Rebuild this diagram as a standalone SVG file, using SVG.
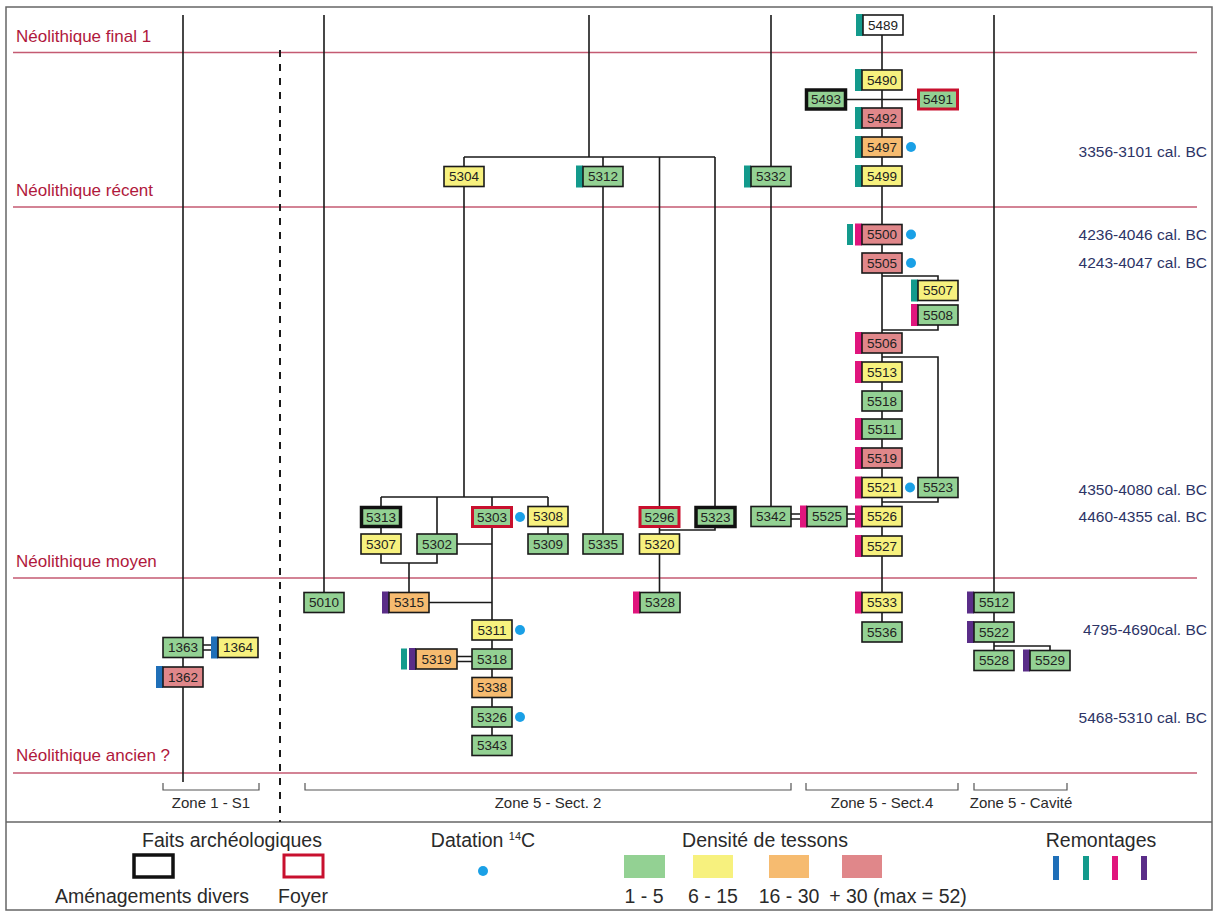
<svg xmlns="http://www.w3.org/2000/svg" width="1215" height="912" viewBox="0 0 1215 912">
<style>
.bx{stroke:#1a1a1a;stroke-width:1.6}
.am{stroke:#111;stroke-width:3.5}
.fy{stroke:#c8102e;stroke-width:3}
.g{fill:#93d193}.y{fill:#f7f17e}.o{fill:#f6bb70}.p{fill:#e0878a}.w{fill:#fff}
.mb{fill:#1f6fb8}.mt{fill:#139a8c}.mm{fill:#e0157d}.mp{fill:#5a2d88}
.dot{fill:#1aa0e6}
.t{font-family:"Liberation Sans",Arial,sans-serif;font-size:13.5px;text-anchor:middle;fill:#222}
.ln{stroke:#1a1a1a;stroke-width:1.6;fill:none}
.per{stroke:#c45a72;stroke-width:1.3}
.pl{font-family:"Liberation Sans",Arial,sans-serif;font-size:17px;fill:#b0183c}
.dt{font-family:"Liberation Sans",Arial,sans-serif;font-size:15.5px;fill:#2d3466;text-anchor:end}
.zl{font-family:"Liberation Sans",Arial,sans-serif;font-size:15px;fill:#2a2a2a;text-anchor:middle}
.lg{font-family:"Liberation Sans",Arial,sans-serif;font-size:19.5px;fill:#2a2a2a;text-anchor:middle}
.br{stroke:#555;stroke-width:1.2;fill:none}
</style>
<rect x="0" y="0" width="1215" height="912" fill="#fff"/>
<rect x="6" y="7" width="1206" height="903" fill="none" stroke="#666" stroke-width="1.5"/>
<line x1="6" y1="822" x2="1212" y2="822" stroke="#666" stroke-width="1.5"/>

<g id="periods">
<line class="per" x1="13" y1="52.5" x2="1197" y2="52.5"/>
<line class="per" x1="13" y1="207" x2="1197" y2="207"/>
<line class="per" x1="13" y1="578" x2="1197" y2="578"/>
<line class="per" x1="13" y1="773" x2="1197" y2="773"/>
<text class="pl" x="16" y="42">Néolithique final 1</text>
<text class="pl" x="16" y="196">Néolithique récent</text>
<text class="pl" x="16" y="567">Néolithique moyen</text>
<text class="pl" x="16" y="761">Néolithique ancien ?</text>
</g>

<g id="dates">
<text class="dt" x="1207" y="157">3356-3101 cal. BC</text>
<text class="dt" x="1207" y="240">4236-4046 cal. BC</text>
<text class="dt" x="1207" y="268">4243-4047 cal. BC</text>
<text class="dt" x="1207" y="495">4350-4080 cal. BC</text>
<text class="dt" x="1207" y="522">4460-4355 cal. BC</text>
<text class="dt" x="1207" y="635">4795-4690cal. BC</text>
<text class="dt" x="1207" y="723">5468-5310 cal. BC</text>
</g>

<g id="connectors">
<line x1="280" y1="50" x2="280" y2="822" stroke="#1a1a1a" stroke-width="2" stroke-dasharray="7,7"/>
<path class="ln" d="M183 15V782M324 15V592M589 15V157M464 157H715M464 157V497M603 157V534M659.5 157V534M715 157V507M771 15V506M882 25V632M846 99.5H918M882 276H938V281M938 325V330H882M882 357H938V477M882 502H938V497M994 15V650M994 646H1050V650M381 497H548M381 497V534M437 497V534M548 497V534M492 497V735M381 554V563H437V554M409 563V592M457 544H492M429 602.5H492M715 527V530H659.5M659.5 554V592"/>
<path class="ln" d="M791 514H801M791 519H801M847 514H856M847 519H856M203 645H212M203 650H212M457 656.5H472M457 661.5H472"/>
</g>

<g id="n5489"><rect class="mt" x="856" y="14" width="7" height="22"/><rect class="bx w" x="863" y="15" width="40" height="20"/><text class="t" x="883" y="29.5">5489</text></g>
<g id="n5490"><rect class="mt" x="855" y="69" width="7" height="22"/><rect class="bx y" x="862" y="70" width="40" height="20"/><text class="t" x="882" y="84.5">5490</text></g>
<g id="n5493"><rect class="am g" x="806.5" y="90" width="39" height="19"/><text class="t" x="826" y="104">5493</text></g>
<g id="n5491"><rect class="fy g" x="918.5" y="90" width="39" height="19"/><text class="t" x="938" y="104">5491</text></g>
<g id="n5492"><rect class="mt" x="855" y="107" width="7" height="22"/><rect class="bx p" x="862" y="108" width="40" height="20"/><text class="t" x="882" y="122.5">5492</text></g>
<g id="n5497"><rect class="mt" x="855" y="136" width="7" height="22"/><rect class="bx o" x="862" y="137" width="40" height="20"/><text class="t" x="882" y="151.5">5497</text><circle class="dot" cx="911" cy="147" r="5"/></g>
<g id="n5499"><rect class="mt" x="855" y="165" width="7" height="22"/><rect class="bx y" x="862" y="166" width="40" height="20"/><text class="t" x="882" y="180.5">5499</text></g>
<g id="n5500"><rect class="mt" x="847" y="224" width="6" height="21"/><rect class="mm" x="855" y="223.5" width="7" height="22"/><rect class="bx p" x="862" y="224.5" width="40" height="20"/><text class="t" x="882" y="239">5500</text><circle class="dot" cx="911" cy="234.5" r="5"/></g>
<g id="n5505"><rect class="bx p" x="862" y="253" width="40" height="20"/><text class="t" x="882" y="267.5">5505</text><circle class="dot" cx="911" cy="263" r="5"/></g>
<g id="n5507"><rect class="mt" x="911" y="279.5" width="7" height="22"/><rect class="bx y" x="918" y="280.5" width="40" height="20"/><text class="t" x="938" y="295">5507</text></g>
<g id="n5508"><rect class="mm" x="911" y="304" width="7" height="22"/><rect class="bx g" x="918" y="305" width="40" height="20"/><text class="t" x="938" y="319.5">5508</text></g>
<g id="n5506"><rect class="mm" x="855" y="332" width="7" height="22"/><rect class="bx p" x="862" y="333" width="40" height="20"/><text class="t" x="882" y="347.5">5506</text></g>
<g id="n5513"><rect class="mm" x="855" y="361" width="7" height="22"/><rect class="bx y" x="862" y="362" width="40" height="20"/><text class="t" x="882" y="376.5">5513</text></g>
<g id="n5518"><rect class="bx g" x="862" y="391" width="40" height="20"/><text class="t" x="882" y="405.5">5518</text></g>
<g id="n5511"><rect class="mm" x="855" y="418" width="7" height="22"/><rect class="bx g" x="862" y="419" width="40" height="20"/><text class="t" x="882" y="433.5">5511</text></g>
<g id="n5519"><rect class="mm" x="855" y="447" width="7" height="22"/><rect class="bx p" x="862" y="448" width="40" height="20"/><text class="t" x="882" y="462.5">5519</text></g>
<g id="n5521"><rect class="mm" x="855" y="476.5" width="7" height="22"/><rect class="bx y" x="862" y="477.5" width="40" height="20"/><text class="t" x="882" y="492">5521</text><circle class="dot" cx="910" cy="487.5" r="5"/></g>
<g id="n5523"><rect class="bx g" x="918" y="477.5" width="40" height="20"/><text class="t" x="938" y="492">5523</text></g>
<g id="n5526"><rect class="mm" x="855" y="505.5" width="7" height="22"/><rect class="bx y" x="862" y="506.5" width="40" height="20"/><text class="t" x="882" y="521">5526</text></g>
<g id="n5525"><rect class="mm" x="800" y="505.5" width="7" height="22"/><rect class="bx g" x="807" y="506.5" width="40" height="20"/><text class="t" x="827" y="521">5525</text></g>
<g id="n5342"><rect class="bx g" x="751" y="506.5" width="40" height="20"/><text class="t" x="771" y="521">5342</text></g>
<g id="n5527"><rect class="mm" x="855" y="535" width="7" height="22"/><rect class="bx y" x="862" y="536" width="40" height="20"/><text class="t" x="882" y="550.5">5527</text></g>
<g id="n5533"><rect class="mm" x="855" y="591.5" width="7" height="22"/><rect class="bx y" x="862" y="592.5" width="40" height="20"/><text class="t" x="882" y="607">5533</text></g>
<g id="n5536"><rect class="bx g" x="862" y="622" width="40" height="20"/><text class="t" x="882" y="636.5">5536</text></g>
<g id="n5512"><rect class="mp" x="967" y="591.5" width="7" height="22"/><rect class="bx g" x="974" y="592.5" width="40" height="20"/><text class="t" x="994" y="607">5512</text></g>
<g id="n5522"><rect class="mp" x="967" y="621" width="7" height="22"/><rect class="bx g" x="974" y="622" width="40" height="20"/><text class="t" x="994" y="636.5">5522</text></g>
<g id="n5528"><rect class="bx g" x="974" y="650.5" width="40" height="20"/><text class="t" x="994" y="665">5528</text></g>
<g id="n5529"><rect class="mp" x="1023" y="649.5" width="7" height="22"/><rect class="bx g" x="1030" y="650.5" width="40" height="20"/><text class="t" x="1050" y="665">5529</text></g>

<g id="n5304"><rect class="bx y" x="444" y="166.5" width="40" height="20"/><text class="t" x="464" y="181">5304</text></g>
<g id="n5312"><rect class="mt" x="576" y="165.5" width="7" height="22"/><rect class="bx g" x="583" y="166.5" width="40" height="20"/><text class="t" x="603" y="181">5312</text></g>
<g id="n5332"><rect class="mt" x="744" y="165.5" width="7" height="22"/><rect class="bx g" x="751" y="166.5" width="40" height="20"/><text class="t" x="771" y="181">5332</text></g>

<g id="n5313"><rect class="am g" x="361.5" y="507.5" width="39" height="19"/><text class="t" x="381" y="521.5">5313</text></g>
<g id="n5303"><rect class="fy g" x="472.5" y="507.5" width="39" height="19"/><text class="t" x="492" y="521.5">5303</text><circle class="dot" cx="520" cy="517" r="5"/></g>
<g id="n5308"><rect class="bx y" x="528" y="506.5" width="40" height="20"/><text class="t" x="548" y="521">5308</text></g>
<g id="n5307"><rect class="bx y" x="361" y="534" width="40" height="20"/><text class="t" x="381" y="548.5">5307</text></g>
<g id="n5302"><rect class="bx g" x="417" y="534" width="40" height="20"/><text class="t" x="437" y="548.5">5302</text></g>
<g id="n5309"><rect class="bx g" x="528" y="534" width="40" height="20"/><text class="t" x="548" y="548.5">5309</text></g>
<g id="n5335"><rect class="bx g" x="583" y="534" width="40" height="20"/><text class="t" x="603" y="548.5">5335</text></g>
<g id="n5296"><rect class="fy g" x="640" y="507.5" width="39" height="19"/><text class="t" x="659.5" y="521.5">5296</text></g>
<g id="n5323"><rect class="am g" x="696" y="507.5" width="39" height="19"/><text class="t" x="715.5" y="521.5">5323</text></g>
<g id="n5320"><rect class="bx y" x="639.5" y="534" width="40" height="20"/><text class="t" x="659.5" y="548.5">5320</text></g>
<g id="n5328"><rect class="mm" x="633" y="591.5" width="7" height="22"/><rect class="bx g" x="640" y="592.5" width="40" height="20"/><text class="t" x="660" y="607">5328</text></g>
<g id="n5315"><rect class="mp" x="382" y="591.5" width="7" height="22"/><rect class="bx o" x="389" y="592.5" width="40" height="20"/><text class="t" x="409" y="607">5315</text></g>
<g id="n5010"><rect class="bx g" x="304" y="592.5" width="40" height="20"/><text class="t" x="324" y="607">5010</text></g>
<g id="n5311"><rect class="bx y" x="472" y="620" width="40" height="20"/><text class="t" x="492" y="634.5">5311</text><circle class="dot" cx="520" cy="630" r="5"/></g>
<g id="n5318"><rect class="bx g" x="472" y="649" width="40" height="20"/><text class="t" x="492" y="663.5">5318</text></g>
<g id="n5319"><rect class="mt" x="401" y="648.5" width="6" height="21"/><rect class="mp" x="409" y="648" width="7" height="22"/><rect class="bx o" x="416" y="649" width="41" height="20"/><text class="t" x="436.5" y="663.5">5319</text></g>
<g id="n5338"><rect class="bx o" x="472" y="677.5" width="40" height="20"/><text class="t" x="492" y="692">5338</text></g>
<g id="n5326"><rect class="bx g" x="472" y="707" width="40" height="20"/><text class="t" x="492" y="721.5">5326</text><circle class="dot" cx="520" cy="717" r="5"/></g>
<g id="n5343"><rect class="bx g" x="472" y="735.5" width="40" height="20"/><text class="t" x="492" y="750">5343</text></g>
<g id="n1363"><rect class="bx g" x="163" y="637.5" width="40" height="20"/><text class="t" x="183" y="652">1363</text></g>
<g id="n1364"><rect class="mb" x="211" y="636.5" width="7" height="22"/><rect class="bx y" x="218" y="637.5" width="40" height="20"/><text class="t" x="238" y="652">1364</text></g>
<g id="n1362"><rect class="mb" x="156" y="666" width="7" height="22"/><rect class="bx p" x="163" y="667" width="40" height="20"/><text class="t" x="183" y="681.5">1362</text></g>

<g id="zones">
<path class="br" d="M163 783V790H259V783M305 783V790H791V783M806 783V790H958V783M974 783V790H1067V783"/>
<text class="zl" x="211" y="808">Zone 1 - S1</text>
<text class="zl" x="548" y="808">Zone 5 - Sect. 2</text>
<text class="zl" x="882" y="808">Zone 5 - Sect.4</text>
<text class="zl" x="1021" y="808">Zone 5 - Cavité</text>
</g>

<g id="legend">
<text class="lg" x="232" y="847">Faits archéologiques</text>
<rect x="134" y="855" width="39" height="22" fill="#fff" stroke="#111" stroke-width="3.5"/>
<rect x="284" y="855" width="39" height="22" fill="#fff" stroke="#c8102e" stroke-width="3"/>
<text class="lg" x="152" y="903">Aménagements divers</text>
<text class="lg" x="303" y="903">Foyer</text>
<text class="lg" x="483" y="847">Datation <tspan font-size="11" dy="-7">14</tspan><tspan dy="7">C</tspan></text>
<circle class="dot" cx="483" cy="871" r="5"/>
<text class="lg" x="765" y="847">Densité de tessons</text>
<rect class="g" x="624" y="855" width="41" height="23"/>
<rect class="y" x="693" y="855" width="40" height="23"/>
<rect class="o" x="769" y="855" width="40" height="23"/>
<rect class="p" x="842" y="855" width="40" height="23"/>
<text class="lg" x="644" y="903">1 - 5</text>
<text class="lg" x="713" y="903">6 - 15</text>
<text class="lg" x="789" y="903">16 - 30</text>
<text class="lg" x="898" y="903">+ 30 (max = 52)</text>
<text class="lg" x="1101" y="847">Remontages</text>
<rect class="mb" x="1053" y="856" width="6" height="24"/>
<rect class="mt" x="1083" y="856" width="6" height="24"/>
<rect class="mm" x="1112" y="856" width="6" height="24"/>
<rect class="mp" x="1141" y="856" width="6" height="24"/>
</g>
</svg>
